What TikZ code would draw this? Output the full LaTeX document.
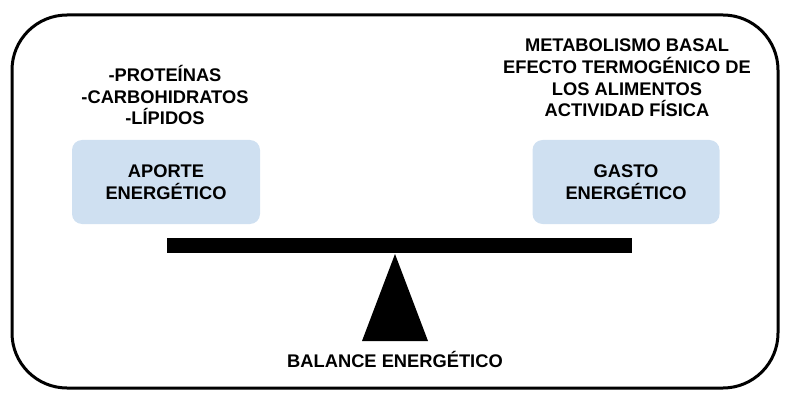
\documentclass[tikz,border=0pt]{standalone}
\usepackage{fontspec}
\setmainfont{Liberation Sans}
\begin{document}
\begin{tikzpicture}[x=1pt,y=-1pt,
  box/.style={fill=boxc,rounded corners=10pt,draw=none},
  lbl/.style={font=\bfseries\fontsize{18.3}{21.7}\selectfont,align=center,inner sep=0}]
\definecolor{boxc}{HTML}{CFE0F1}
\useasboundingbox (0,0) rectangle (787,401);
\draw[line width=3pt,rounded corners=55pt] (12,15) rectangle (778,388);
\node[box,minimum width=188pt,minimum height=84pt] (ap) at (166,182) {};
\node[lbl] at (ap) {APORTE\\ENERGÉTICO};
\node[box,minimum width=187pt,minimum height=84pt] (ga) at (626,182) {};
\node[lbl] at (ga) {GASTO\\ENERGÉTICO};
\node[lbl] (nut) at (165,95) {-PROTEÍNAS\\-CARBOHIDRATOS\\-LÍPIDOS};
\node[lbl] (gas) at (627,78) {METABOLISMO BASAL\\EFECTO TERMOGÉNICO DE\\LOS ALIMENTOS\\ACTIVIDAD FÍSICA};
\fill (167,238) rectangle (632,253);
\fill (395,254) -- (428,341) -- (362,341) -- cycle;
\node[lbl] (bal) at (395,359) {BALANCE ENERGÉTICO};
\end{tikzpicture}
\end{document}
